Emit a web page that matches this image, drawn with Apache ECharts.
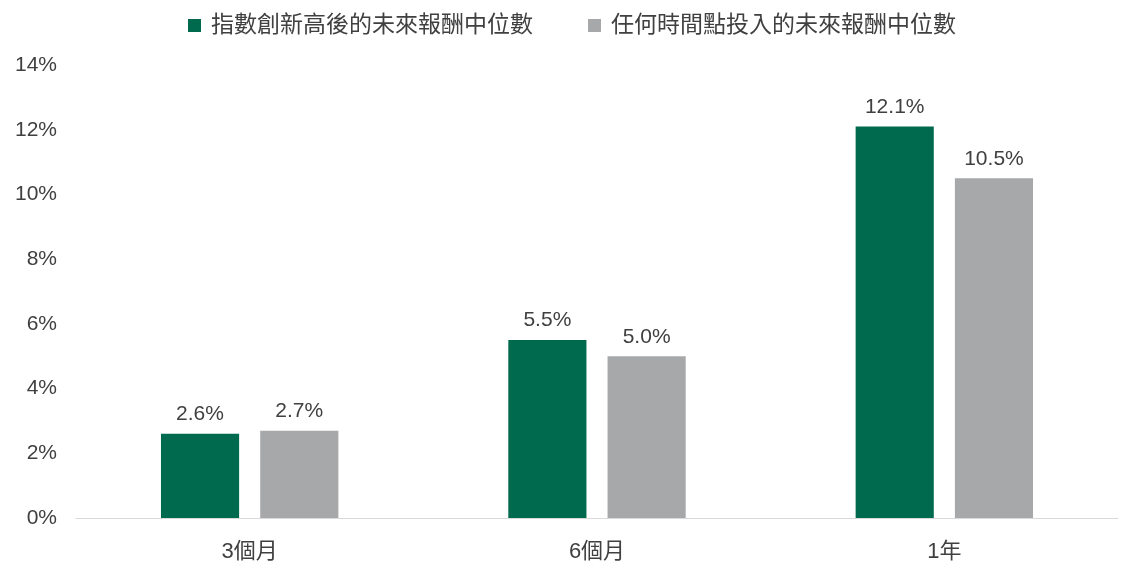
<!DOCTYPE html>
<html><head><meta charset="utf-8">
<script src="https://cdn.jsdelivr.net/npm/echarts@6/dist/echarts.min.js"></script>
<style>html,body{margin:0;padding:0;background:#fff}#c{width:1124px;height:573px}</style>
</head><body><div id="c"></div>
<script>
const categories = ['3個月', '6個月', '1年'];
const seriesNames = ['指數創新高後的未來報酬中位數', '任何時間點投入的未來報酬中位數'];
const athValues = [2.6, 5.5, 12.1];
const anyValues = [2.7, 5.0, 10.5];
const yTicks = [0, 2, 4, 6, 8, 10, 12, 14];

const font = '"Liberation Sans", "Noto Sans CJK TC", sans-serif';
const textColor = '#404040';
const chart = echarts.init(document.getElementById('c'));
chart.setOption({
  animation: false,
  legend: {
    top: 9, left: 183,
    itemWidth: 13, itemHeight: 13, itemGap: 55,
    icon: 'rect',
    textStyle: { fontFamily: font, fontSize: 23, color: textColor, padding: [0, 0, 0, 5] },
    data: seriesNames
  },
  grid: { left: 76, right: 6, top: 65, bottom: 55, containLabel: false },
  xAxis: {
    type: 'category', data: categories,
    axisLine: { lineStyle: { color: '#d9d9d9', width: 1 } },
    axisTick: { show: false },
    axisLabel: { fontFamily: font, fontSize: 22, color: textColor, margin: 23 }
  },
  yAxis: {
    type: 'value', min: yTicks[0], max: yTicks[yTicks.length - 1], interval: 2,
    splitLine: { show: false },
    axisLine: { show: false }, axisTick: { show: false },
    axisLabel: { fontFamily: font, fontSize: 21, color: textColor, margin: 19, formatter: v => v + '%' }
  },
  series: [
    { name: seriesNames[0], type: 'bar', data: athValues, barWidth: '22.5%', barGap: '27%',
      itemStyle: { color: '#006A4E' },
      label: { show: true, position: 'top', distance: 9, fontFamily: font, fontSize: 21, color: textColor, formatter: p => p.value.toFixed(1) + '%' } },
    { name: seriesNames[1], type: 'bar', data: anyValues, barWidth: '22.5%',
      itemStyle: { color: '#A7A8AA' },
      label: { show: true, position: 'top', distance: 9, fontFamily: font, fontSize: 21, color: textColor, formatter: p => p.value.toFixed(1) + '%' } }
  ]
});
</script></body></html>
